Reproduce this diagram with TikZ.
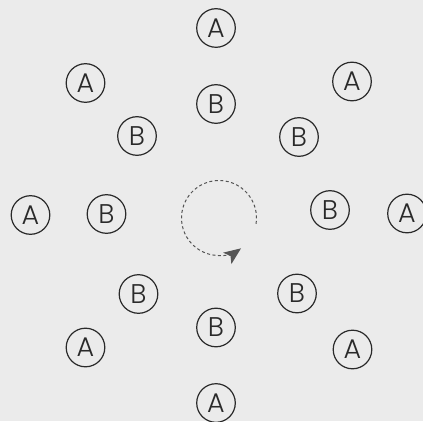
\documentclass[tikz,border=0pt]{standalone}
\usepackage{fontspec}
\setmainfont{Poppins}[UprightFont=* Light]
\usepackage{tikz}
\usetikzlibrary{arrows.meta}

\definecolor{fondo}{HTML}{EBEBEB}
\definecolor{tinta}{HTML}{2A2A2A}
\definecolor{flecha}{HTML}{555555}

\begin{document}
\begin{tikzpicture}[x=1pt, y=1pt,
    >={Stealth},
    ring/.style={circle, draw=tinta, line width=1.2pt, minimum size=38.6pt,
        inner sep=0pt, text=tinta, font=\fontsize{27}{27}\selectfont}]

    % Fondo
    \fill[fondo] (0,0) rectangle (423,421);
    \useasboundingbox (0,0) rectangle (423,421);

    % Anillo exterior
    \foreach \n/\x/\y in {1/216/393, 2/352/339.5, 3/407/207.5, 4/352.5/71.5,
                          5/216/18, 6/85.5/73.5, 7/30.5/206, 8/85.5/338}{
        \node[ring] (a\n) at (\x,\y) {A};
    }

    % Anillo interior
    \foreach \n/\x/\y in {1/216/317, 2/299/284, 3/330/211, 4/297/127.5,
                          5/216/93.5, 6/138.5/127, 7/106.5/207, 8/137/285}{
        \node[ring] (b\n) at (\x,\y) {B};
    }

    % Giro
    \coordinate (centro) at (219,203);
    \draw[->, flecha, line width=1pt, dash pattern=on 3pt off 2.5pt,
        -{Stealth[length=17pt, width=14pt, inset=4pt]}]
        ([shift={(-9:37.5)}]centro) arc[start angle=-9, end angle=306, radius=37.5];
\end{tikzpicture}
\end{document}
